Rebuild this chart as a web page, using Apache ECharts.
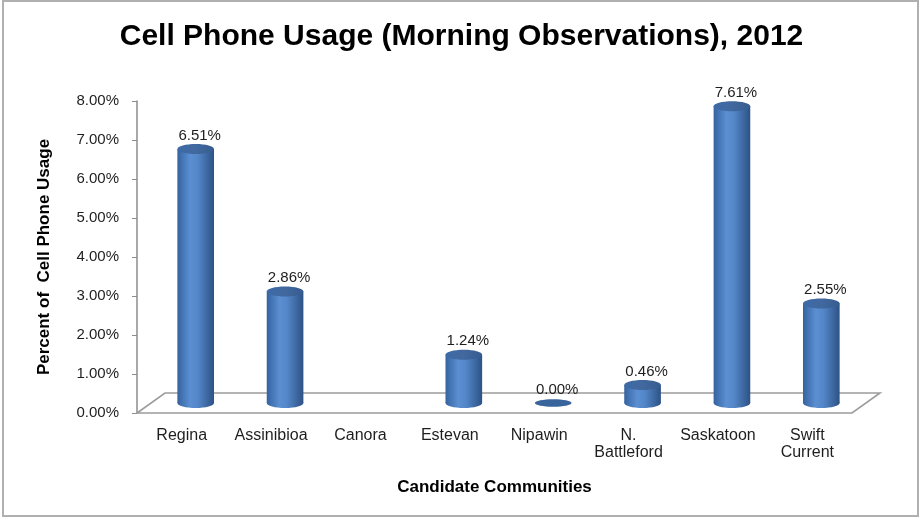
<!DOCTYPE html>
<html>
<head>
<meta charset="utf-8">
<title>Cell Phone Usage (Morning Observations), 2012</title>
<script src="https://cdn.jsdelivr.net/npm/echarts@6/dist/echarts.min.js"></script>
<style>
  html, body { margin: 0; padding: 0; background: #fff; }
  #chart { width: 923px; height: 518px; }
</style>
</head>
<body>
<div id="chart"></div>
<script>
// Communities surveyed and share of people seen using a cell phone (percent)
const communities = ['Regina', 'Assinibioa', 'Canora', 'Estevan', 'Nipawin', 'N.\nBattleford', 'Saskatoon', 'Swift\nCurrent'];
const usagePercent = [6.51, 2.86, null, 1.24, 0.00, 0.46, 7.61, 2.55];
const yTicks = [0, 1, 2, 3, 4, 5, 6, 7, 8];

const FONT = '"Liberation Sans", Arial, sans-serif';
// Perspective of the floor: depth offset of the back edge relative to the front edge
const DEPTH_X = 28, DEPTH_Y = 20;

const chart = echarts.init(document.getElementById('chart'));

function cylinderGradient() {
  return new echarts.graphic.LinearGradient(0, 0, 1, 0, [
    { offset: 0, color: '#3563a0' },
    { offset: 0.35, color: '#5b8fd2' },
    { offset: 0.55, color: '#5487c9' },
    { offset: 1, color: '#2d5285' }
  ]);
}

// Floor of the plot drawn as a parallelogram under the bars
function renderFloor(params, api) {
  const cs = params.coordSys;
  const x0 = cs.x, x1 = cs.x + cs.width, yb = cs.y + cs.height;
  return {
    type: 'polygon',
    shape: { points: [[x0, yb], [x1, yb], [x1 + DEPTH_X, yb - DEPTH_Y], [x0 + DEPTH_X, yb - DEPTH_Y]] },
    style: { fill: '#ffffff', stroke: '#9c9c9c', lineWidth: 1.6 },
    silent: true
  };
}

// Cylinder bar standing in the middle of the floor depth
function renderCylinder(params, api) {
  const v = api.value(1);
  if (v == null || isNaN(v)) return null;
  const top = api.coord([api.value(0), v]);
  const base = api.coord([api.value(0), 0]);
  const band = api.size([1, 0])[0];
  const w = band * 0.41;
  const cx = top[0] + DEPTH_X / 2;
  const yTop = top[1] - DEPTH_Y / 2;
  const yBase = base[1] - DEPTH_Y / 2;
  const ry = 5;
  const children = [];
  const label = {
    type: 'text',
    style: {
      text: v.toFixed(2) + '%',
      x: cx + 4, y: yTop - ry - 1,
      align: 'center', verticalAlign: 'bottom',
      font: '15px ' + FONT, fill: '#1e1e1e'
    }
  };
  if (yBase - yTop < 0.5) {
    children.push({
      type: 'ellipse',
      shape: { cx: cx, cy: yBase, rx: w / 2, ry: ry * 0.75 },
      style: { fill: '#3a659c' }
    });
  } else {
    children.push({
      type: 'ellipse',
      shape: { cx: cx, cy: yBase, rx: w / 2, ry: ry },
      style: { fill: cylinderGradient() }
    });
    children.push({
      type: 'rect',
      shape: { x: cx - w / 2, y: yTop, width: w, height: yBase - yTop },
      style: { fill: cylinderGradient() }
    });
    children.push({
      type: 'ellipse',
      shape: { cx: cx, cy: yTop, rx: w / 2, ry: ry },
      style: {
        fill: new echarts.graphic.LinearGradient(0, 0, 1, 0, [
          { offset: 0, color: '#3d6aa6' },
          { offset: 0.5, color: '#42699f' },
          { offset: 1, color: '#365c90' }
        ])
      }
    });
  }
  children.push(label);
  return { type: 'group', children: children };
}

const option = {
  backgroundColor: '#ffffff',
  animation: false,
  title: {
    text: 'Cell Phone Usage (Morning Observations), 2012',
    left: 'center',
    top: 17,
    textStyle: { fontFamily: FONT, fontSize: 30, fontWeight: 'bold', color: '#000' }
  },
  graphic: [{
    type: 'rect',
    shape: { x: 3, y: 1, width: 915, height: 515 },
    style: { fill: null, stroke: '#b0b0b0', lineWidth: 2 },
    silent: true,
    z: -1
  }],
  grid: { left: 137, right: 71, top: 101, bottom: 105 },
  xAxis: {
    type: 'category',
    data: communities,
    axisLine: { show: false },
    axisTick: { show: false },
    axisLabel: {
      interval: 0,
      margin: 14,
      fontFamily: FONT, fontSize: 16, color: '#1e1e1e', lineHeight: 17
    },
    name: 'Candidate Communities',
    nameLocation: 'middle',
    nameGap: 66,
    nameTextStyle: { fontFamily: FONT, fontSize: 17, fontWeight: 'bold', color: '#000' }
  },
  yAxis: {
    type: 'value',
    min: yTicks[0],
    max: yTicks[yTicks.length - 1],
    interval: 1,
    axisLine: { show: true, lineStyle: { color: '#8c8c8c', width: 1.5 } },
    axisTick: { show: true, length: 5, lineStyle: { color: '#8c8c8c' } },
    splitLine: { show: false },
    axisLabel: {
      margin: 18,
      formatter: v => v.toFixed(2) + '%',
      fontFamily: FONT, fontSize: 15, color: '#1e1e1e'
    },
    name: 'Percent of  Cell Phone Usage',
    nameLocation: 'middle',
    nameGap: 84,
    nameRotate: 90,
    nameTextStyle: { fontFamily: FONT, fontSize: 17, fontWeight: 'bold', color: '#000' }
  },
  series: [
    {
      type: 'custom',
      renderItem: renderFloor,
      data: [[0, 0]],
      z: 1,
      silent: true
    },
    {
      type: 'custom',
      renderItem: renderCylinder,
      data: usagePercent.map((v, i) => [i, v]),
      encode: { x: 0, y: 1 },
      z: 2
    }
  ]
};

chart.setOption(option);
</script>
</body>
</html>
